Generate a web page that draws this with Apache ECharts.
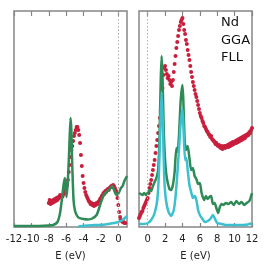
<!DOCTYPE html>
<html>
<head>
<meta charset="utf-8">
<script src="https://cdn.jsdelivr.net/npm/echarts@6/dist/echarts.min.js"></script>
<style>html,body{margin:0;padding:0;background:#fff}#c{width:266px;height:266px}</style>
</head>
<body>
<div id="c"></div>
<script>
// ---- left panel (occupied states) ----
var leftTicks = [-12, -10, -8, -6, -4, -2, 0];
var leftGreenE = [-12,-10,-8,-7.5,-7.0,-6.7,-6.5,-6.3,-6.15,-6.05,-5.95,-5.8,-5.65,-5.5,-5.4,-5.3,-5.15,-5.0,-4.8,-4.5,-4.0,-3.5,-3.0,-2.5,-2.2,-1.9,-1.6,-1.35,-1.1,-0.9,-0.7,-0.5,-0.3,-0.1,0.1,0.3,0.5,0.7,1.0];
var leftGreenV = [1,1,1.5,2,5,14,27,42,49,37,30,47,77,109,97,62,27,17,12,9,8,7.5,8.5,12,19,27,33,35,37,39,41,37,33,32,35,39,41,46,51];
var leftCyanE = [-4.6,-3.5,-2.5,-1.5,-0.5,0,0.5,1.0];
var leftCyanV = [0.5,1.5,2,2.5,4,5,7,11];
var leftRedE = [-8.0,-7.9,-7.8,-7.7,-7.6,-7.5,-7.4,-7.3,-7.2,-7.1,-7.0,-6.9,-6.8,-6.7,-6.6,-6.5,-6.4,-6.3,-6.2,-6.1,-6.0,-5.9,-5.8,-5.7,-5.6,-5.5,-5.4,-5.3,-5.2,-5.1,-5.0,-4.9,-4.8,-4.7,-4.6,-4.5,-4.4,-4.3,-4.2,-4.1,-4.0,-3.9,-3.8,-3.7,-3.6,-3.5,-3.4,-3.3,-3.2,-3.1,-3.0,-2.9,-2.8,-2.7,-2.6,-2.5,-2.4,-2.3,-2.2,-2.1,-2.0,-1.9,-1.8,-1.7,-1.6,-1.5,-1.4,-1.3,-1.2,-1.1,-1.0,-0.9,-0.8,-0.7,-0.6,-0.5,-0.4,-0.3,-0.2,-0.1,0.0,0.1,0.2,0.3,0.4,0.5,0.6,0.7,0.8];
var leftRedV = [24,27,23,26,24,27,25,28,26,29,27,30,29,32,31,30,31,33,34,36,37,42,47,55,62,70,77,81,86,91,94,97,100,100,97,92,84,72,61,51,44,39,35,32,30,28,26,25,23,24,22,23,21,23,22,24,23,25,26,28,29,31,32,34,33,36,35,37,38,37,39,40,41,40,42,41,39,37,35,29,22,15,10,7,6,5,5,4,4];

// ---- right panel (unoccupied states) ----
var rightTicks = [0, 2, 4, 6, 8, 10, 12];
var rightGreenE = [-1.0,-0.8,-0.6,-0.4,-0.2,0.0,0.2,0.4,0.6,0.8,1.0,1.2,1.35,1.5,1.6,1.7,1.85,2.0,2.2,2.5,2.7,2.9,3.1,3.3,3.45,3.6,3.8,4.0,4.1,4.25,4.4,4.6,4.8,5.0,5.2,5.4,5.6,5.8,6.0,6.2,6.5,6.7,6.9,7.1,7.3,7.5,7.7,7.9,8.1,8.3,8.5,8.7,9.0,9.3,9.6,9.9,10.2,10.5,10.8,11.1,11.4,11.7,12.0];
var rightGreenV = [34,33,32,34,32,34,37,36,41,45,49,57,87,147,171,152,97,67,49,38,37,42,55,79,75,92,127,142,127,87,77,81,69,57,59,51,48,43,44,34,27,31,28,30,31,23,24,19,14,20,23,22,24,23,25,22,26,23,25,22,24,26,34];
var rightCyanE = [-1.0,-0.5,0.0,0.4,0.8,1.1,1.3,1.45,1.6,1.75,1.9,2.1,2.4,2.7,3.0,3.2,3.4,3.6,3.8,4.0,4.15,4.3,4.45,4.6,4.8,5.0,5.2,5.4,5.6,5.8,6.0,6.3,6.6,6.9,7.2,7.5,7.7,8.0,8.5,9.0,10,11,11.5,11.8,12];
var rightCyanV = [3,3,4,7,14,27,55,100,135,100,50,27,15,11,17,30,52,78,104,118,92,67,69,57,42,35,29,31,27,17,12,8,5,6,8,12,9,4,3,2,2,2,2.5,3.5,2];
var rightRedE = [-1.0,-0.9,-0.8,-0.7,-0.6,-0.5,-0.4,-0.3,-0.2,-0.1,0.0,0.1,0.2,0.3,0.4,0.5,0.6,0.7,0.8,0.9,1.0,1.1,1.2,1.3,1.4,1.5,1.6,1.7,1.8,1.9,2.0,2.1,2.2,2.3,2.4,2.5,2.6,2.7,2.8,2.9,3.0,3.1,3.2,3.3,3.4,3.5,3.6,3.7,3.8,3.9,4.0,4.1,4.2,4.3,4.4,4.5,4.6,4.7,4.8,4.9,5.0,5.1,5.2,5.3,5.4,5.5,5.6,5.7,5.8,5.9,6.0,6.1,6.2,6.3,6.4,6.5,6.6,6.7,6.8,6.9,7.0,7.1,7.2,7.3,7.4,7.5,7.6,7.7,7.8,7.9,8.0,8.1,8.2,8.3,8.4,8.5,8.6,8.7,8.8,8.9,9.0,9.1,9.2,9.3,9.4,9.5,9.6,9.7,9.8,9.9,10.0,10.1,10.2,10.3,10.4,10.5,10.6,10.7,10.8,10.9,11.0,11.1,11.2,11.3,11.4,11.5,11.6,11.7,11.8,11.9,12.0];
var rightRedV = [9,11,13,15,16,19,21,23,25,27,29,34,39,43,47,52,57,62,67,74,81,87,94,101,109,117,127,139,152,159,161,157,153,149,151,147,143,145,141,147,155,163,171,179,185,191,197,201,205,207,209,203,197,193,187,183,177,172,167,161,155,150,145,141,137,133,130,126,122,118,114,111,109,106,104,101,100,98,96,95,93,92,90,91,88,87,86,85,83,84,82,81,82,80,79,81,78,80,81,79,81,80,82,80,83,81,84,82,85,83,84,86,84,87,85,88,86,89,87,90,88,91,89,92,91,93,92,95,94,97,99];

var labels = ['Nd', 'GGA', 'FLL'];
var xName = 'E (eV)';

function pairs(xs, ys) { return xs.map(function (x, i) { return [x, ys[i]]; }); }

var GREEN = '#2e8b57', CYAN = '#3cc0cf', RED = '#c81e3c', FRAME = '#858585';
var font = 'DejaVu Sans';

function xAxes(gi, mn, mx, ticks) {
  return [{
    gridIndex: gi, type: 'value', min: mn, max: mx, position: 'bottom',
    name: xName, nameLocation: 'middle', nameGap: 24,
    nameTextStyle: { fontFamily: font, fontSize: 10, color: '#222' },
    axisLine: { show: false }, splitLine: { show: false },
    axisTick: { show: true, inside: true, length: 4, customValues: ticks, lineStyle: { color: FRAME, width: 1.2 } },
    axisLabel: { customValues: ticks, fontFamily: font, fontSize: 10, color: '#222', margin: 7 }
  }, {
    gridIndex: gi, type: 'value', min: mn, max: mx, position: 'top',
    axisLine: { show: false }, splitLine: { show: false },
    axisTick: { show: true, inside: true, length: 5, customValues: ticks, lineStyle: { color: FRAME, width: 1.2 } },
    axisLabel: { show: false }
  }];
}
function yAxis(gi) {
  return { gridIndex: gi, type: 'value', min: 0, max: 216, axisLine: { show: false }, axisTick: { show: false }, axisLabel: { show: false }, splitLine: { show: false } };
}
function zeroLine() {
  return { silent: true, symbol: 'none', label: { show: false }, lineStyle: { type: [1.5, 2], color: '#b0b0b0', width: 1 }, data: [{ xAxis: 0 }] };
}

var chart = echarts.init(document.getElementById('c'), null, { renderer: 'canvas' });
chart.setOption({
  animation: false,
  grid: [
    { left: 14, top: 11, width: 113, height: 216, show: true, borderColor: FRAME, borderWidth: 1.5 },
    { left: 139, top: 11, width: 113, height: 216, show: true, borderColor: FRAME, borderWidth: 1.5 }
  ],
  xAxis: xAxes(0, -12, 1, leftTicks).concat(xAxes(1, -1, 12, rightTicks)),
  yAxis: [yAxis(0), yAxis(1)],
  series: [
    { type: 'scatter', xAxisIndex: 0, yAxisIndex: 0, data: pairs(leftRedE, leftRedV), symbolSize: 4, itemStyle: { color: RED, opacity: 1 }, markLine: zeroLine() },
    { type: 'line', xAxisIndex: 0, yAxisIndex: 0, data: pairs(leftGreenE, leftGreenV), showSymbol: false, smooth: 0.2, lineStyle: { color: GREEN, width: 2.5 } },
    { type: 'line', xAxisIndex: 0, yAxisIndex: 0, data: pairs(leftCyanE, leftCyanV), showSymbol: false, smooth: 0.2, lineStyle: { color: CYAN, width: 2.5 } },
    { type: 'scatter', xAxisIndex: 2, yAxisIndex: 1, data: pairs(rightRedE, rightRedV), symbolSize: 4, itemStyle: { color: RED, opacity: 1 }, markLine: zeroLine() },
    { type: 'line', xAxisIndex: 2, yAxisIndex: 1, data: pairs(rightGreenE, rightGreenV), showSymbol: false, smooth: 0.2, lineStyle: { color: GREEN, width: 2.5 } },
    { type: 'line', xAxisIndex: 2, yAxisIndex: 1, data: pairs(rightCyanE, rightCyanV), showSymbol: false, smooth: 0.2, lineStyle: { color: CYAN, width: 2.5 } }
  ],
  graphic: labels.map(function (t, i) {
    return { type: 'text', left: 221, top: 16 + i * 17.7, style: { text: t, fontFamily: font, fontSize: 13, fill: '#111' } };
  })
});
</script>
</body>
</html>
